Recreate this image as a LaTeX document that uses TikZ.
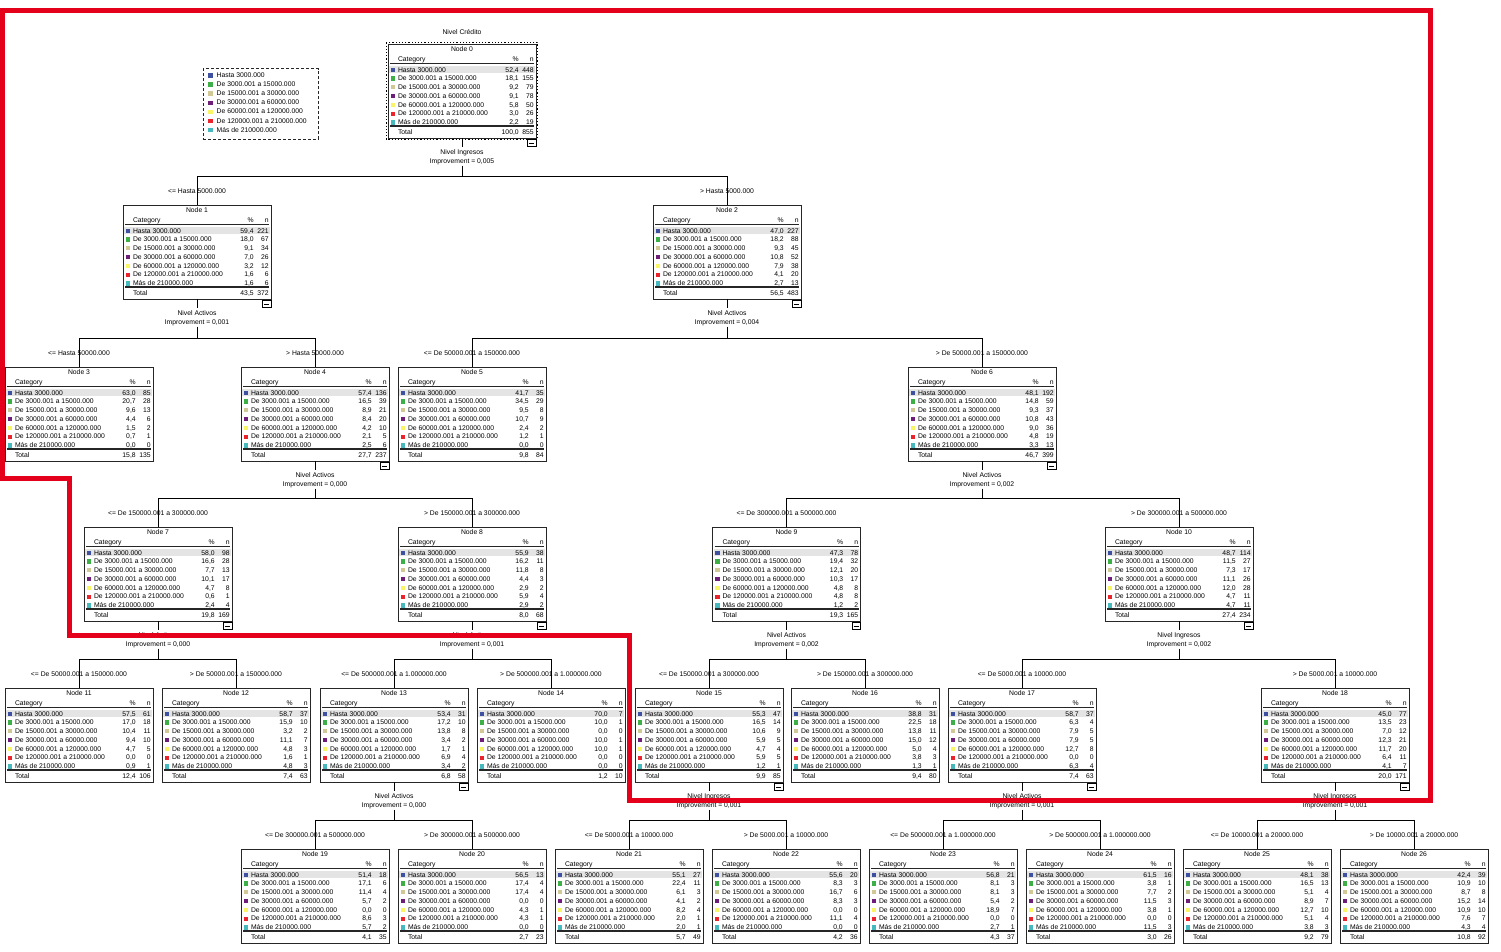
\documentclass[tikz,border=0pt]{standalone}
\usepackage{fontspec}
\setmainfont{Liberation Sans}
\usetikzlibrary{calc}
\definecolor{cat0}{RGB}{62,80,160}
\definecolor{cat1}{RGB}{60,175,70}
\definecolor{cat2}{RGB}{210,200,150}
\definecolor{cat3}{RGB}{110,30,120}
\definecolor{cat4}{RGB}{250,245,100}
\definecolor{cat5}{RGB}{235,35,45}
\definecolor{cat6}{RGB}{70,185,190}
\definecolor{rowgray}{RGB}{228,228,228}
\definecolor{redmark}{RGB}{228,0,27}
\newcommand\tcat[1]{\ifcase#1 Hasta 3000.000\or De 3000.001 a 15000.000\or De 15000.001 a 30000.000\or De 30000.001 a 60000.000\or De 60000.001 a 120000.000\or De 120000.001 a 210000.000\or Más de 210000.000\fi}
\tikzset{
 tt/.style={font=\fontsize{6.8}{8}\selectfont, inner sep=0pt, outer sep=0pt},
 tbox/.style={draw=black!85, line width=0.8pt, minimum width=148pt, minimum height=94pt, inner sep=0pt, outer sep=0pt, anchor=north, fill=white},
 ln/.style={line width=0.5pt, draw=black!85},
 conn/.style={line width=0.7pt, draw=black},
 iconst/.style={line width=0.6pt, draw=black},
 redpath/.style={line width=5pt, draw=redmark, line join=miter},
 legbox/.style={draw=black!85, dash pattern=on 3pt off 2pt, line width=0.7pt, minimum width=115pt, minimum height=70.5pt, anchor=north west, inner sep=0pt, outer sep=0pt}
}
\def\tdtotal#1/#2/#3\relax{%
  \node[tt,anchor=base west] at (10,90.7) {Total};
  \node[tt,anchor=base east] at (130.7,90.7) {#1,#2};
  \node[tt,anchor=base east] at (145.7,90.7) {#3};}
\newcommand\tnode[6]{%
 \node[tbox] (#1) at (#2,#3) {};
 \begin{scope}[shift={(#1.north west)}]
  \fill[rowgray] (1.2,22.4) rectangle (146.8,29.2);
  \node[tt] at (74,5) {Node #4};
  \node[tt,anchor=base west] at (10,17.6) {Category};
  \node[tt,anchor=base east] at (130.7,17.6) {\%};
  \node[tt,anchor=base east] at (145.7,17.6) {n};
  \draw[ln] (2,19) -- (146,19);
  \foreach \pa/\pb/\nn [count=\i from 0] in {#5}{%
    \fill[fill=cat\i] (2.8,23.7+8.77*\i) rectangle ++(4.2,4.2);
    \node[tt,anchor=base west] at (10,28.1+8.77*\i) {\tcat{\i}};
    \node[tt,anchor=base east] at (130.7,28.1+8.77*\i) {\pa,\pb};
    \node[tt,anchor=base east] at (145.7,28.1+8.77*\i) {\nn};
  }
  \draw[ln] (2,81) -- (146,81);
  \draw[ln] (2,82.6) -- (146,82.6);
  \tdtotal #6\relax
 \end{scope}
}
\newcommand\tsplit[7]{%
 \coordinate (#1-h) at ($(#2.north)+(0,-29)$);
 \draw[conn] (#1.south) -- ++(0,9);
 \node[tt] (#1-v) at ($(#1.south)+(0,14.5)$) {#4};
 \node[tt] (#1-i) at ($(#1.south)+(0,23.5)$) {Improvement = #5};
 \draw[conn] ($(#1.south)+(0,27.5)$) -- (#1.south |- #1-h);
 \draw[conn] (#2.north) -- (#2.north |- #1-h) -- (#3.north |- #1-h) -- (#3.north);
 \node[tt] (#2-l) at ($(#2.north)+(0,-14)$) {<= #6};
 \node[tt] (#3-l) at ($(#3.north)+(0,-14)$) {> #7};
}
\newcommand\ticon[1]{%
 \draw[iconst, fill=white] ($(#1.south east)+(-8.7,1.2)$) rectangle ($(#1.south east)+(0,8.4)$);
 \draw[iconst] ($(#1.south east)+(-6.8,4.8)$) -- ($(#1.south east)+(-1.9,4.8)$);}
\begin{document}
\begin{tikzpicture}[x=1pt,y=-1pt]
\useasboundingbox (0,0) rectangle (1501,951);
\fill[white] (0,0) rectangle (1501,951);

\node[tt] (title) at (462,32) {Nivel Crédito};

% legend
\node[legbox] (legend) at (203.3,68.7) {};
\foreach \i in {0,...,6}{%
  \fill[fill=cat\i] ($(legend.north west)+(5,4.6+9.07*\i)$) rectangle ++(4.2,4.2);
  \node[tt,anchor=base west] at ($(legend.north west)+(13.4,9.0+9.07*\i)$) {\tcat{\i}};
}

% nodes
\tnode{n0}{462}{44}{0}{52/4/448,18/1/155,9/2/79,9/1/78,5/8/50,3/0/26,2/2/19}{100/0/855}
\draw[dotted, line width=1.2pt] ($(n0.north west)+(-1.6,-1.6)$) rectangle ($(n0.south east)+(1.6,1.6)$);

\tnode{n1}{197}{205}{1}{59/4/221,18/0/67,9/1/34,7/0/26,3/2/12,1/6/6,1/6/6}{43/5/372}
\tnode{n2}{727}{205}{2}{47/0/227,18/2/88,9/3/45,10/8/52,7/9/38,4/1/20,2/7/13}{56/5/483}

\tnode{n3}{79}{367}{3}{63/0/85,20/7/28,9/6/13,4/4/6,1/5/2,0/7/1,0/0/0}{15/8/135}
\tnode{n4}{315}{367}{4}{57/4/136,16/5/39,8/9/21,8/4/20,4/2/10,2/1/5,2/5/6}{27/7/237}
\tnode{n5}{472}{367}{5}{41/7/35,34/5/29,9/5/8,10/7/9,2/4/2,1/2/1,0/0/0}{9/8/84}
\tnode{n6}{982}{367}{6}{48/1/192,14/8/59,9/3/37,10/8/43,9/0/36,4/8/19,3/3/13}{46/7/399}

\tnode{n7}{158}{527}{7}{58/0/98,16/6/28,7/7/13,10/1/17,4/7/8,0/6/1,2/4/4}{19/8/169}
\tnode{n8}{472}{527}{8}{55/9/38,16/2/11,11/8/8,4/4/3,2/9/2,5/9/4,2/9/2}{8/0/68}
\tnode{n9}{786.5}{527}{9}{47/3/78,19/4/32,12/1/20,10/3/17,4/8/8,4/8/8,1/2/2}{19/3/165}
\tnode{n10}{1179}{527}{10}{48/7/114,11/5/27,7/3/17,11/1/26,12/0/28,4/7/11,4/7/11}{27/4/234}

\tnode{n11}{79}{688}{11}{57/5/61,17/0/18,10/4/11,9/4/10,4/7/5,0/0/0,0/9/1}{12/4/106}
\tnode{n12}{236}{688}{12}{58/7/37,15/9/10,3/2/2,11/1/7,4/8/3,1/6/1,4/8/3}{7/4/63}
\tnode{n13}{394}{688}{13}{53/4/31,17/2/10,13/8/8,3/4/2,1/7/1,6/9/4,3/4/2}{6/8/58}
\tnode{n14}{551}{688}{14}{70/0/7,10/0/1,0/0/0,10/0/1,10/0/1,0/0/0,0/0/0}{1/2/10}
\tnode{n15}{709}{688}{15}{55/3/47,16/5/14,10/6/9,5/9/5,4/7/4,5/9/5,1/2/1}{9/9/85}
\tnode{n16}{865}{688}{16}{38/8/31,22/5/18,13/8/11,15/0/12,5/0/4,3/8/3,1/3/1}{9/4/80}
\tnode{n17}{1022}{688}{17}{58/7/37,6/3/4,7/9/5,7/9/5,12/7/8,0/0/0,6/3/4}{7/4/63}
\tnode{n18}{1335}{688}{18}{45/0/77,13/5/23,7/0/12,12/3/21,11/7/20,6/4/11,4/1/7}{20/0/171}

\tnode{n19}{315}{849}{19}{51/4/18,17/1/6,11/4/4,5/7/2,0/0/0,8/6/3,5/7/2}{4/1/35}
\tnode{n20}{472}{849}{20}{56/5/13,17/4/4,17/4/4,0/0/0,4/3/1,4/3/1,0/0/0}{2/7/23}
\tnode{n21}{629}{849}{21}{55/1/27,22/4/11,6/1/3,4/1/2,8/2/4,2/0/1,2/0/1}{5/7/49}
\tnode{n22}{786}{849}{22}{55/6/20,8/3/3,16/7/6,8/3/3,0/0/0,11/1/4,0/0/0}{4/2/36}
\tnode{n23}{943}{849}{23}{56/8/21,8/1/3,8/1/3,5/4/2,18/9/7,0/0/0,2/7/1}{4/3/37}
\tnode{n24}{1100}{849}{24}{61/5/16,3/8/1,7/7/2,11/5/3,3/8/1,0/0/0,11/5/3}{3/0/26}
\tnode{n25}{1257}{849}{25}{48/1/38,16/5/13,5/1/4,8/9/7,12/7/10,5/1/4,3/8/3}{9/2/79}
\tnode{n26}{1414}{849}{26}{42/4/39,10/9/10,8/7/8,15/2/14,10/9/10,7/6/7,4/3/4}{10/8/92}

% splits
\tsplit{n0}{n1}{n2}{Nivel Ingresos}{0,005}{Hasta 5000.000}{Hasta 5000.000}
\tsplit{n1}{n3}{n4}{Nivel Activos}{0,001}{Hasta 50000.000}{Hasta 50000.000}
\tsplit{n2}{n5}{n6}{Nivel Activos}{0,004}{De 50000.001 a 150000.000}{De 50000.001 a 150000.000}
\tsplit{n4}{n7}{n8}{Nivel Activos}{0,000}{De 150000.001 a 300000.000}{De 150000.001 a 300000.000}
\tsplit{n6}{n9}{n10}{Nivel Activos}{0,002}{De 300000.001 a 500000.000}{De 300000.001 a 500000.000}
\tsplit{n7}{n11}{n12}{Nivel Activos}{0,000}{De 50000.001 a 150000.000}{De 50000.001 a 150000.000}
\tsplit{n8}{n13}{n14}{Nivel Activos}{0,001}{De 500000.001 a 1.000000.000}{De 500000.001 a 1.000000.000}
\tsplit{n9}{n15}{n16}{Nivel Activos}{0,002}{De 150000.001 a 300000.000}{De 150000.001 a 300000.000}
\tsplit{n10}{n17}{n18}{Nivel Ingresos}{0,002}{De 5000.001 a 10000.000}{De 5000.001 a 10000.000}
\tsplit{n13}{n19}{n20}{Nivel Activos}{0,000}{De 300000.001 a 500000.000}{De 300000.001 a 500000.000}
\tsplit{n15}{n21}{n22}{Nivel Ingresos}{0,001}{De 5000.001 a 10000.000}{De 5000.001 a 10000.000}
\tsplit{n17}{n23}{n24}{Nivel Activos}{0,001}{De 500000.001 a 1.000000.000}{De 500000.001 a 1.000000.000}
\tsplit{n18}{n25}{n26}{Nivel Ingresos}{0,001}{De 10000.001 a 20000.000}{De 10000.001 a 20000.000}

% collapse icons
\foreach \k in {n0,n1,n2,n4,n6,n7,n8,n9,n10,n13,n15,n17,n18}{\ticon{\k}}

% red outline
\draw[redpath] (2.5,10.5) -- (1430.5,10.5) -- (1430.5,800.5) -- (629,800.5) -- (629,635.5) -- (69.5,635.5) -- (69.5,478) -- (2.5,478) -- cycle;
\end{tikzpicture}
\end{document}
